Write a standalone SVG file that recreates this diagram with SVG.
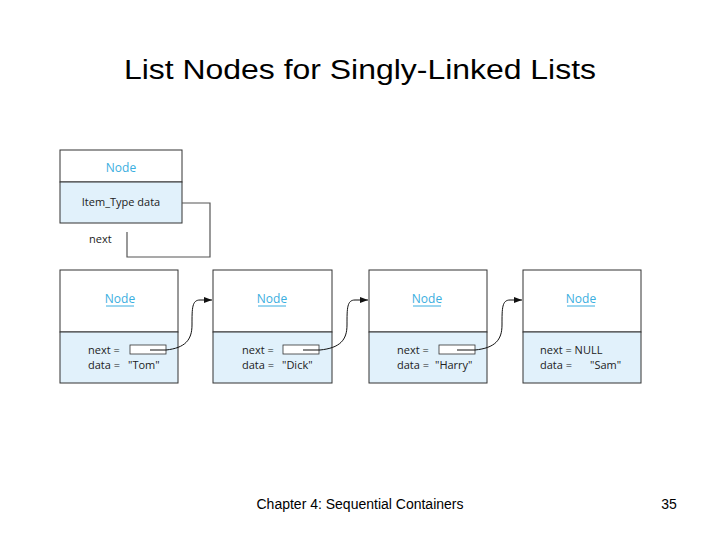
<svg xmlns="http://www.w3.org/2000/svg" width="720" height="540" viewBox="0 0 720 540">
<style>
.t{font-family:"Liberation Sans",Arial,sans-serif}
.box{fill:#fff;stroke:#333;stroke-width:1}
.blue{fill:#e1f1fb;stroke:#333;stroke-width:1}
.nd{font-family:"Open Sans","Liberation Sans",sans-serif;font-size:12px;fill:#3aaee0;text-anchor:middle}
.sm{font-family:"Open Sans","Liberation Sans",sans-serif;font-size:11px;fill:#222}
.ul{stroke:#3aaee0;stroke-width:1}
.slot{fill:#fff;stroke:#333;stroke-width:0.8}
.c{fill:none;stroke:#111;stroke-width:1}
</style>
<defs><marker id="ah" markerWidth="8" markerHeight="6" refX="8" refY="3" orient="auto" markerUnits="userSpaceOnUse"><path d="M0,0 L8,3 L0,6 z" fill="#111"/></marker></defs>
<text class="t" x="360" y="79" font-size="27" text-anchor="middle" textLength="472" lengthAdjust="spacingAndGlyphs">List Nodes for Singly-Linked Lists</text>
<g id="classnode">
<rect class="box" x="60" y="150" width="122" height="32"/>
<rect class="blue" x="60" y="182" width="122" height="41"/>
<text class="nd" x="121" y="172" font-size="13">Node</text>
<text class="sm" x="121" y="206" text-anchor="middle" font-size="12">Item_Type data</text>
<text class="sm" x="89" y="243" font-size="12">next</text>
<path d="M182,203 H210 V257 H127 V232" fill="none" stroke="#555" stroke-width="1.2"/>
</g>
<g id="n1">
<rect class="box" x="60" y="270" width="118" height="62"/><rect class="blue" x="60" y="332" width="118" height="51"/>
<text class="nd" x="120" y="303" font-size="11">Node</text><line class="ul" x1="106" y1="306" x2="134" y2="306"/>
<text class="sm" x="88" y="354">next =</text><rect class="slot" x="130" y="345" width="36" height="9"/>
<text class="sm" x="88" y="369">data =</text><text class="sm" x="128" y="369">"Tom"</text>
</g>
<g id="n2">
<rect class="box" x="213" y="270" width="119" height="62"/><rect class="blue" x="213" y="332" width="119" height="51"/>
<text class="nd" x="272" y="303" font-size="11">Node</text><line class="ul" x1="258" y1="306" x2="286" y2="306"/>
<text class="sm" x="242" y="354">next =</text><rect class="slot" x="283" y="345" width="36" height="9"/>
<text class="sm" x="242" y="369">data =</text><text class="sm" x="282" y="369">"Dick"</text>
</g>
<g id="n3">
<rect class="box" x="369" y="270" width="118" height="62"/><rect class="blue" x="369" y="332" width="118" height="51"/>
<text class="nd" x="427" y="303" font-size="11">Node</text><line class="ul" x1="413" y1="306" x2="441" y2="306"/>
<text class="sm" x="397" y="354">next =</text><rect class="slot" x="439" y="345" width="36" height="9"/>
<text class="sm" x="397" y="369">data =</text><text class="sm" x="435" y="369">"Harry"</text>
</g>
<g id="n4">
<rect class="box" x="523" y="270" width="118" height="62"/><rect class="blue" x="523" y="332" width="118" height="51"/>
<text class="nd" x="581" y="303" font-size="11">Node</text><line class="ul" x1="567" y1="306" x2="595" y2="306"/>
<text class="sm" x="540" y="354">next = NULL</text>
<text class="sm" x="540" y="369">data =</text><text class="sm" x="590" y="369">"Sam"</text>
</g>
<g id="connectors">
<path class="c" marker-end="url(#ah)" d="M150,350 L166,350 C185,348 192,340 192,325 C192,308 192,300 200,300 L212,300"/>
<path class="c" marker-end="url(#ah)" d="M303,350 L320,350 C340,348 347,340 347,325 C347,308 347,300 355,300 L368,300"/>
<path class="c" marker-end="url(#ah)" d="M457,350 L475,350 C495,348 502,340 502,325 C502,308 502,300 510,300 L522,300"/>
</g>
<text class="t" x="360" y="509" font-size="14" text-anchor="middle">Chapter 4: Sequential Containers</text>
<text class="t" x="669" y="509" font-size="14" text-anchor="middle">35</text>
</svg>
